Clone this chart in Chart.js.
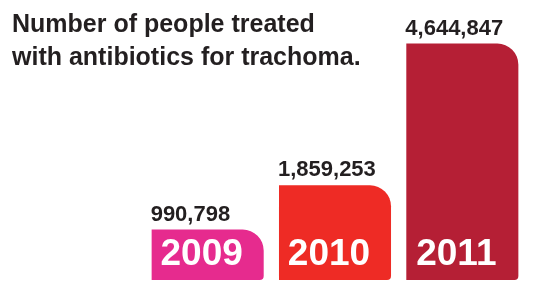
<!DOCTYPE html>
<html>
<head>
<meta charset="utf-8">
<script src="https://cdn.jsdelivr.net/npm/chart.js@4/dist/chart.umd.min.js"></script>
<style>
html,body{margin:0;padding:0;background:#fff;}
#wrap{width:538px;height:287px;position:relative;}
canvas{display:block;}
</style>
</head>
<body>
<div id="wrap"><canvas id="c" width="538" height="287"></canvas></div>
<script>
const years = ["2009", "2010", "2011"];
const treated = [990798, 1859253, 4644847];
const barColors = ["#e62b8e", "#ee2b25", "#b51f35"];
const titleLines = ["Number of people treated", "with antibiotics for trachoma."];

const FONT = '"Liberation Sans", Arial, Helvetica, sans-serif';

const labelPlugin = {
  id: 'labels',
  afterDatasetsDraw(chart) {
    const ctx = chart.ctx;
    const meta = chart.getDatasetMeta(0);
    ctx.save();
    // title
    ctx.fillStyle = '#231f20';
    ctx.font = 'bold 25px ' + FONT;
    ctx.textAlign = 'left';
    ctx.textBaseline = 'alphabetic';
    ctx.fillText(titleLines[0], 12, 32);
    ctx.fillText(titleLines[1], 12, 65);
    meta.data.forEach((bar, i) => {
      const left = bar.x - bar.width / 2;
      // value label
      ctx.fillStyle = '#231f20';
      ctx.font = 'bold 22px ' + FONT;
      ctx.textAlign = 'left';
      ctx.fillText(treated[i].toLocaleString('en-US'), left - 1, bar.y - 9);
      // year label
      ctx.fillStyle = '#ffffff';
      ctx.font = 'bold 37px ' + FONT;
      ctx.textAlign = 'center';
      ctx.fillText(years[i], bar.x - 6, bar.base - 15);
    });
    ctx.restore();
  }
};

new Chart(document.getElementById('c'), {
  type: 'bar',
  data: {
    labels: years,
    datasets: [{
      data: treated,
      backgroundColor: barColors,
      borderWidth: 0,
      borderSkipped: false,
      borderRadius: {topLeft: 0, topRight: 21, bottomLeft: 0, bottomRight: 4},
      barPercentage: 0.88,
      categoryPercentage: 1.0
    }]
  },
  options: {
    responsive: false,
    devicePixelRatio: 1,
    animation: false,
    layout: {padding: {left: 144, right: 12, top: 0, bottom: 7}},
    plugins: {legend: {display: false}, tooltip: {enabled: false}, title: {display: false}},
    scales: {
      x: {display: false},
      y: {display: false, min: 0, max: 5500000}
    }
  },
  plugins: [labelPlugin]
});
</script>
</body>
</html>
